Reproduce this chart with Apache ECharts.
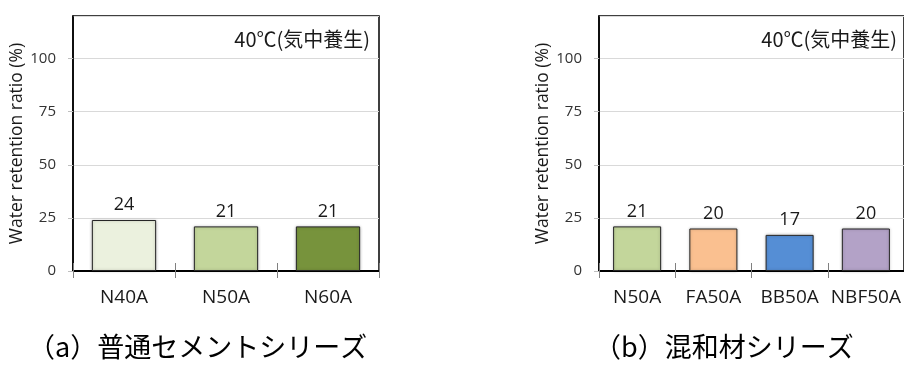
<!DOCTYPE html>
<html>
<head>
<meta charset="utf-8">
<script src="https://cdn.jsdelivr.net/npm/echarts@6/dist/echarts.min.js"></script>
<style>
  html, body { margin: 0; padding: 0; background: #fff; }
  #chart { width: 904px; height: 365px; }
</style>
</head>
<body>
<div id="chart"></div>
<script>
// (a) ordinary cement series
const catsA = ['N40A', 'N50A', 'N60A'];
const valsA = [24, 21, 21];
const colorsA = ['#EBF1DE', '#C3D69B', '#77933C'];

// (b) blended material series
const catsB = ['N50A', 'FA50A', 'BB50A', 'NBF50A'];
const valsB = [21, 20, 17, 20];
const colorsB = ['#C3D69B', '#FAC090', '#558ED5', '#B3A2C7'];

// shared value axis
const yMin = 0;
const yMax = 120;
const yStep = 25;

const yName = 'Water retention ratio (%)';
const condition = '40℃(気中養生)';
const captionA = '（a）普通セメントシリーズ';
const captionB = '（b）混和材シリーズ';

const latin = '"Open Sans", "Noto Sans", sans-serif';
const cjk = '"Noto Sans CJK JP", "Noto Sans", sans-serif';

const grids = [
  { left: 73, top: 16, width: 306, height: 255 },
  { left: 599, top: 16, width: 307, height: 255 }
];

function xAxisMain(idx, cats) {
  return {
    type: 'category', gridIndex: idx, data: cats,
    axisLine: { lineStyle: { color: '#000', width: 2 } },
    axisTick: { show: true, length: 7, lineStyle: { color: '#808080', width: 1 } },
    axisLabel: { interval: 0, margin: 17, fontFamily: latin, fontSize: 19, color: '#1a1a1a' }
  };
}
// overlay axis that draws the upper half of the crossing ticks
function xAxisInner(idx, cats) {
  return {
    type: 'category', gridIndex: idx, data: cats, position: 'bottom',
    axisLine: { show: false },
    axisTick: { show: true, inside: true, length: 8, lineStyle: { color: '#808080', width: 1 } },
    axisLabel: { show: false }, splitLine: { show: false }
  };
}
function yAxis(idx) {
  return {
    type: 'value', gridIndex: idx, min: yMin, max: yMax, interval: yStep,
    name: yName, nameLocation: 'middle', nameGap: 45,
    nameTextStyle: { fontFamily: latin, fontSize: 17.5, color: '#1a1a1a' },
    axisLine: { show: true, lineStyle: { color: '#000', width: 1.5 } },
    axisTick: { show: true, length: 5, lineStyle: { color: '#bfbfbf' } },
    axisLabel: { margin: 17, fontFamily: latin, fontSize: 15, color: '#333', showMaxLabel: false },
    splitLine: { show: true, lineStyle: { color: '#d9d9d9', width: 1 } }
  };
}
function barSeries(idx, vals, colors) {
  return {
    type: 'bar', xAxisIndex: idx * 2, yAxisIndex: idx,
    barCategoryGap: '37%',
    data: vals.map((v, i) => ({
      value: v,
      itemStyle: { color: colors[i], borderColor: '#262626', borderWidth: 1,
        shadowColor: 'rgba(0,0,0,0.25)', shadowBlur: 3 }
    })),
    label: { show: true, position: 'top', distance: 6, fontFamily: latin, fontSize: 18, color: '#1a1a1a' }
  };
}

const chart = echarts.init(document.getElementById('chart'), null, { renderer: 'canvas' });
chart.setOption({
  animation: false,
  backgroundColor: '#fff',
  grid: grids.map(g => Object.assign({ show: true, borderColor: '#000', borderWidth: 1.5, backgroundColor: 'transparent' }, g)),
  xAxis: [xAxisMain(0, catsA), xAxisInner(0, catsA), xAxisMain(1, catsB), xAxisInner(1, catsB)],
  yAxis: [yAxis(0), yAxis(1)],
  series: [barSeries(0, valsA, colorsA), barSeries(1, valsB, colorsB)],
  graphic: [
    { type: 'text', right: 904 - 370, top: 29,
      style: { text: condition, font: '20px ' + cjk, fill: '#1a1a1a', textAlign: 'right' } },
    { type: 'text', right: 904 - 897, top: 29,
      style: { text: condition, font: '20px ' + cjk, fill: '#1a1a1a', textAlign: 'right' } },
    { type: 'text', left: 28, top: 333,
      style: { text: captionA, font: '27px ' + cjk, fill: '#000' } },
    { type: 'text', left: 594, top: 333,
      style: { text: captionB, font: '27px ' + cjk, fill: '#000' } }
  ]
});
</script>
</body>
</html>
